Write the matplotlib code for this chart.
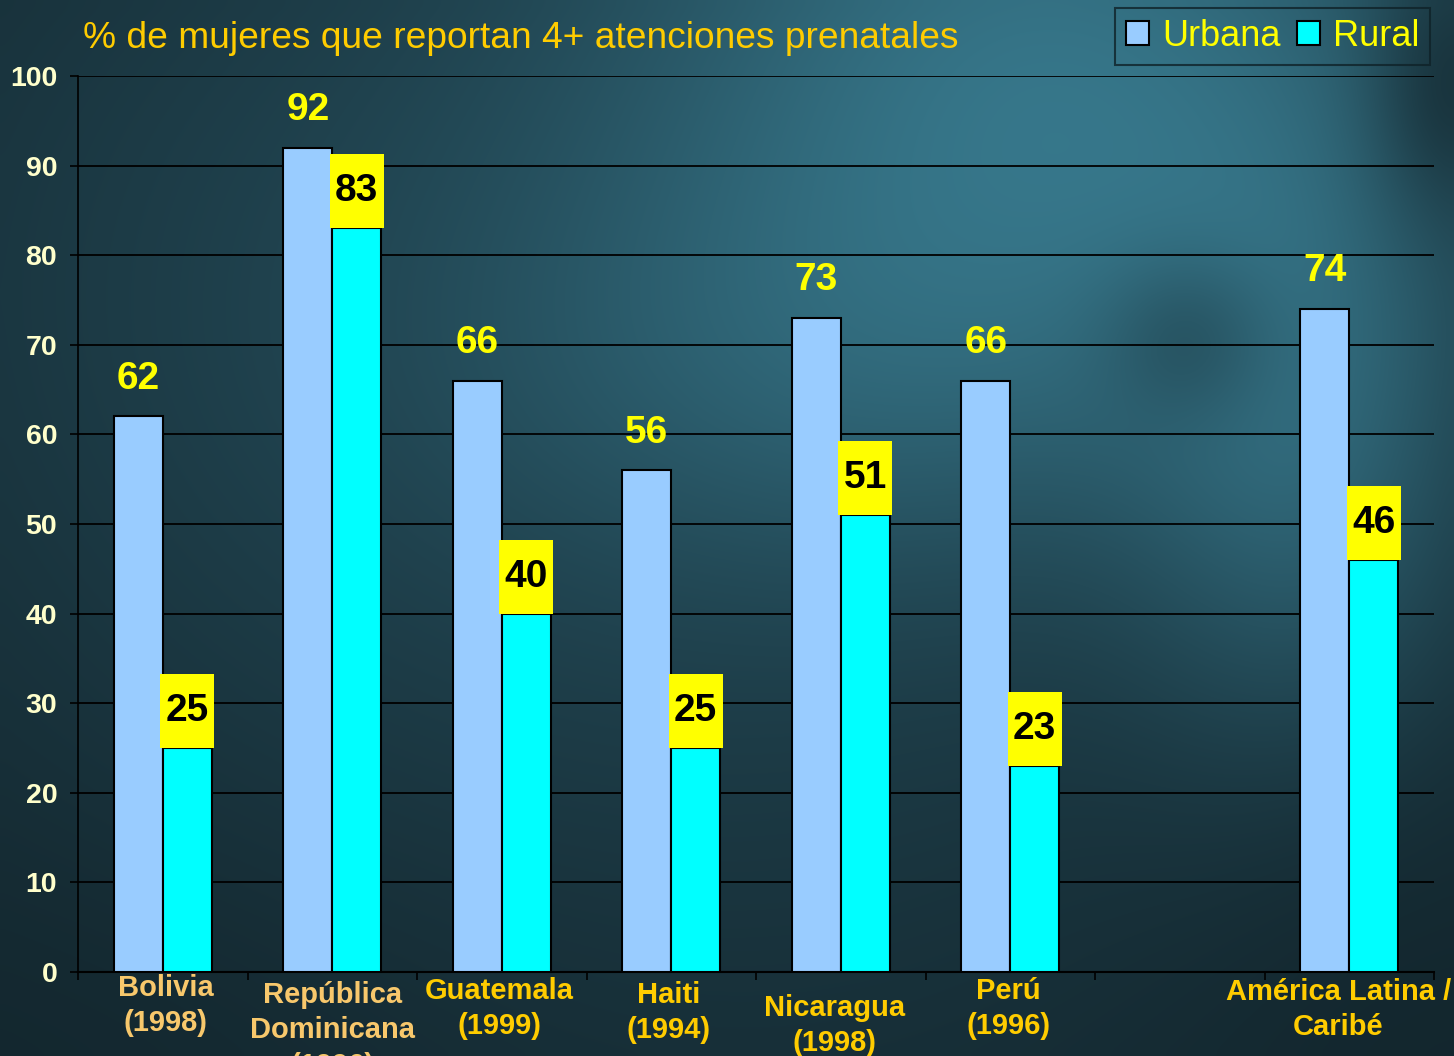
import numpy as np
import matplotlib.pyplot as plt
from matplotlib.patches import Patch

plt.rcParams['font.family'] = ['Liberation Sans', 'DejaVu Sans']

# data
paises = ["Bolivia\n(1998)", "República\nDominicana\n(1996)", "Guatemala\n(1999)",
          "Haiti\n(1994)", "Nicaragua\n(1998)", "Perú\n(1996)", "",
          "América Latina /\nCaribé"]
urbana = [62, 92, 66, 56, 73, 66, np.nan, 74]
rural = [25, 83, 40, 25, 51, 23, np.nan, 46]

# label layout (pixel offsets from the axis, colour, narrow font)
lab_dy = [2, 9, 5, 9, 22, 5, 0, 6]
lab_dx = [3, 0, -2, -3, -6, -2, 0, -11]
lab_col = ["#F8C86C", "#F8C86C", "#FFCC00", "#FFCC00", "#FFCC00", "#FFCC00",
           "#FFCC00", "#FFCC00"]
lab_narrow = [False, False, False, False, True, True, False, True]

W, H = 1454, 1056
fig = plt.figure(figsize=(W / 100, H / 100), dpi=100)

# background gradient
yy, xx = np.mgrid[0:1:106j, 0:1:146j]
def blob(cx, cy, sx, sy):
    return np.exp(-(((xx - cx) / sx) ** 2 + ((yy - cy) / sy) ** 2))
dark = np.array([0x12, 0x24, 0x2B]) / 255
mid = np.array([0x22, 0x47, 0x54]) / 255
light = np.array([0x38, 0x7A, 0x8E]) / 255
t = 0.8 * blob(0.45, 0.35, 0.55, 0.7) + 0.15 * blob(0.1, 0.2, 0.3, 0.4)
t = np.clip(t, 0, 1)
img = dark + (mid - dark) * t[..., None]
l = np.clip(0.9 * blob(0.72, 0.08, 0.3, 0.35) + 0.5 * blob(0.9, 0.45, 0.12, 0.3)
            + 0.3 * blob(0.55, 0.35, 0.25, 0.2), 0, 1)
img = img + (light - img) * l[..., None]
d = np.clip(0.6 * blob(1.0, 0.08, 0.05, 0.12) + 0.35 * blob(0.82, 0.32, 0.06, 0.08)
            + 0.5 * blob(0.95, 0.95, 0.15, 0.25) + 0.4 * blob(0.05, 1.0, 0.3, 0.2), 0, 1)
img = img + (dark - img) * d[..., None]
bg = fig.add_axes([0, 0, 1, 1], zorder=-5)
bg.imshow(np.clip(img, 0, 1), aspect='auto', extent=[0, 1, 0, 1], interpolation='bicubic')
bg.axis('off')

ax = fig.add_axes([78 / W, 84 / H, 1356 / W, 896 / H])
ax.set_facecolor('none')
x = np.arange(len(paises)) + 0.5
bw = 0.288
ax.bar(x - bw / 2, urbana, bw, color="#99CCFF", edgecolor="black", linewidth=1.5, zorder=3)
ax.bar(x + bw / 2, rural, bw, color="#00FFFF", edgecolor="black", linewidth=1.5, zorder=3)

# yellow boxes for rural labels
box_h = 8.26
ax.bar(x + bw / 2, [box_h if not np.isnan(v) else np.nan for v in rural], 0.318,
       bottom=rural, color="#FFFF00", linewidth=0, zorder=4)

for xi, u, r in zip(x, urbana, rural):
    if np.isnan(u):
        continue
    ax.text(xi - bw / 2, u + 4.2, f"{u:.0f}", ha='center', va='center',
            color="#FFFF00", fontsize=28, fontweight='bold', zorder=5)
    ax.text(xi + bw / 2, r + box_h / 2, f"{r:.0f}", ha='center', va='center',
            color="black", fontsize=28, fontweight='bold', zorder=5)

ax.set_xlim(0, len(paises))
ax.set_ylim(0, 100)
ax.set_yticks(np.arange(0, 101, 10))
ax.set_xticks(np.arange(0, len(paises) + 1))
ax.set_xticklabels([])
ax.tick_params(axis='y', direction='out', length=6, width=1.2, color='black',
               labelcolor="#FFFFCC", labelsize=20.5, pad=9)
for lbl in ax.get_yticklabels():
    lbl.set_fontweight('bold')
ax.tick_params(axis='x', direction='out', length=6, width=1.2, color='black')
ax.yaxis.grid(True, color='black', linewidth=1.3, zorder=0)
ax.set_axisbelow(True)
for s in ['top', 'right']:
    ax.spines[s].set_visible(False)
ax.spines['left'].set_color('black')
ax.spines['left'].set_linewidth(1.2)
ax.spines['bottom'].set_color('black')
ax.spines['bottom'].set_linewidth(1.5)

# category labels
for i, name in enumerate(paises):
    if not name:
        continue
    fam = ['Liberation Sans Narrow', 'Liberation Sans'] if lab_narrow[i] else ['Liberation Sans']
    ax.annotate(name, xy=(x[i], 0), xycoords='data', xytext=(lab_dx[i], -lab_dy[i]),
                textcoords='offset pixels', ha='center', va='top', color=lab_col[i],
                fontsize=21, fontweight='bold', family=fam,
                linespacing=1.33, annotation_clip=False)

fig.text(83 / W, 1 - 38 / H, "% de mujeres que reportan 4+ atenciones prenatales",
         ha='left', va='center', color="#FFCC00", fontsize=26.7)

handles = [Patch(facecolor="#99CCFF", edgecolor='black', linewidth=1.5, label="Urbana"),
           Patch(facecolor="#00FFFF", edgecolor='black', linewidth=1.5, label="Rural")]
leg = fig.legend(handles=handles, loc='upper right', bbox_to_anchor=(1430 / W, 1 - 8 / H),
                 ncol=2, frameon=True, fancybox=False, fontsize=26, handlelength=0.65,
                 handleheight=0.65, handletextpad=0.35, columnspacing=0.45,
                 borderpad=0.3, borderaxespad=0)
leg.get_frame().set_facecolor('none')
leg.get_frame().set_edgecolor('#0F2228')
leg.get_frame().set_linewidth(1.5)
for tx in leg.get_texts():
    tx.set_color("#FFFF00")

fig.savefig("out.png", dpi=100)
